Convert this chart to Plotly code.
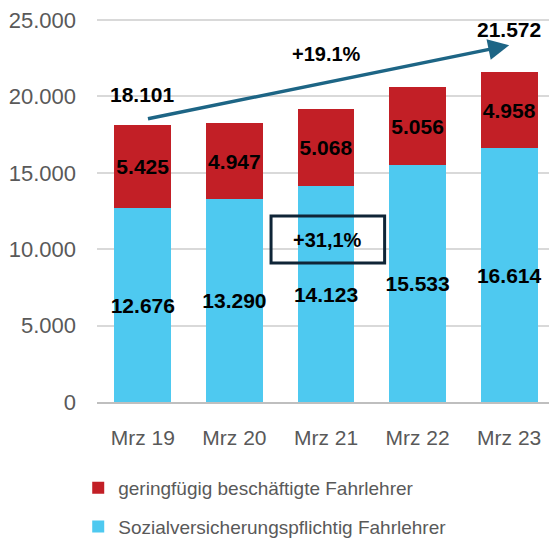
import plotly.graph_objects as go

categories = ["Mrz 19", "Mrz 20", "Mrz 21", "Mrz 22", "Mrz 23"]
sozial = [12676, 13290, 14123, 15533, 16614]
geringfuegig = [5425, 4947, 5068, 5056, 4958]
totals = [18101, 19237, 19191, 20589, 21572]
sozial_labels = ["12.676", "13.290", "14.123", "15.533", "16.614"]
gering_labels = ["5.425", "4.947", "5.068", "5.056", "4.958"]
y_ticks = [0, 5000, 10000, 15000, 20000, 25000]
y_tick_labels = ["0", "5.000", "10.000", "15.000", "20.000", "25.000"]

BLUE = "#4ec9f0"
RED = "#c21f26"
ARROW = "#1d6585"
BOLD = "Liberation Sans"

fig = go.Figure()
fig.add_trace(go.Bar(
    x=categories, y=sozial, name="Sozialversicherungspflichtig Fahrlehrer",
    marker=dict(color=BLUE, line=dict(width=0)),
    text=sozial_labels, textposition="inside", insidetextanchor="middle",
    textangle=0, constraintext="none",
    textfont=dict(family=BOLD, size=21, color="black", weight="bold"),
    legendgroup="a", legendrank=2, hoverinfo="skip",
))
fig.add_trace(go.Bar(
    x=categories, y=geringfuegig, name="geringfügig beschäftigte Fahrlehrer",
    marker=dict(color=RED, line=dict(width=0)),
    text=gering_labels, textposition="inside", insidetextanchor="middle",
    textangle=0, constraintext="none",
    textfont=dict(family=BOLD, size=21, color="black", weight="bold"),
    legendgroup="b", legendrank=1, hoverinfo="skip",
))

fig.update_layout(
    width=549, height=536,
    margin=dict(l=89, r=2, t=9, b=142, autoexpand=False),
    barmode="stack", bargap=0.38,
    uniformtext=dict(minsize=21, mode="show"),
    plot_bgcolor="white", paper_bgcolor="white",
    showlegend=True,
    legend=dict(
        orientation="v", x=-0.041, xanchor="left", y=-0.174, yanchor="top",
        traceorder="grouped", tracegroupgap=11,
        font=dict(family="Liberation Sans", size=19, color="#595959"),
        itemwidth=30,
    ),
    font=dict(family="Liberation Sans", color="#595959"),
)
fig.update_yaxes(
    range=[0, 25200], tickvals=y_ticks, ticktext=y_tick_labels,
    showgrid=True, gridcolor="#d9d9d9", gridwidth=1.5, zeroline=False,
    tickfont=dict(size=22, color="#595959"), ticklabelstandoff=20,
    ticklabeloverflow="allow",
    showline=False,
)
fig.update_xaxes(
    showline=True, linecolor="#bfbfbf", linewidth=1.5,
    tickfont=dict(size=21, color="#595959"), ticklabelstandoff=16,
    ticks="",
)

# Growth arrow
fig.add_annotation(
    x=4.0, y=23350, ax=0.04, ay=18520, xref="x", yref="y", axref="x", ayref="y",
    text="", showarrow=True, arrowhead=2, arrowsize=1.2, arrowwidth=3.5,
    arrowcolor=ARROW, standoff=0, startstandoff=0,
)
fig.add_annotation(x=0, y=20100, xref="x", yref="y", text="18.101", showarrow=False,
                   font=dict(family=BOLD, size=21, color="black", weight="bold"))
fig.add_annotation(x=4, y=24350, xref="x", yref="y", text="21.572", showarrow=False,
                   font=dict(family=BOLD, size=21, color="black", weight="bold"))
fig.add_annotation(x=2, y=22780, xref="x", yref="y", text="+19.1%", showarrow=False,
                   font=dict(family=BOLD, size=20, color="black", weight="bold"))

# Box with percentage
fig.add_shape(type="rect", x0=1.40, x1=2.64, y0=9100, y1=12170, xref="x", yref="y",
              line=dict(color="#0f2537", width=3), fillcolor="rgba(0,0,0,0)")
fig.add_annotation(x=2.02, y=10630, xref="x", yref="y", text="+31,1%", showarrow=False,
                   font=dict(family=BOLD, size=20, color="black", weight="bold"))

fig.write_html("out.html")
